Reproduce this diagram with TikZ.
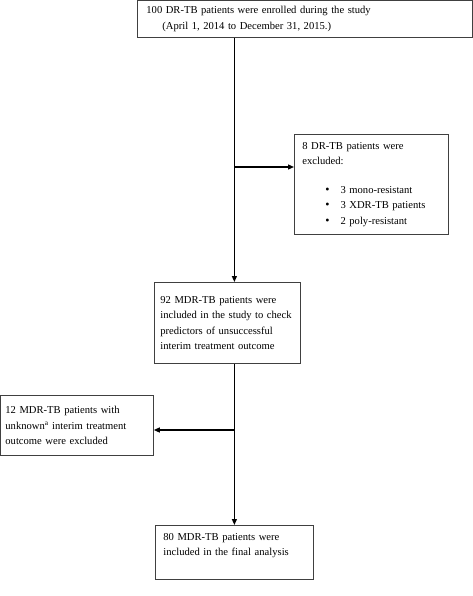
\documentclass[tikz,border=0pt]{standalone}
\usepackage{fontspec}
\setmainfont{Liberation Serif}
\usetikzlibrary{arrows.meta}

\tikzset{
  box/.style={draw=black!75, line width=0.8pt, anchor=north west, align=left, inner ysep=8pt},
  arr/.style={-{Triangle[length=6pt,width=5pt]}, line width=1.2pt},
}

\begin{document}
\begin{tikzpicture}[x=1pt, y=-1pt, font=\fontsize{10.6}{15.5}\selectfont]
    \useasboundingbox (0,0) rectangle (473,596);
    % boxes
    \node[box, text width=317pt, inner xsep=9pt, minimum height=37pt, inner ysep=3pt] (enrol) at (137,0)
        {100 DR-TB patients were enrolled during the study\\\hspace*{16pt}(April 1, 2014 to December 31, 2015.)};
    \node[box, text width=138pt, inner xsep=8pt, minimum height=92pt] (excl1) at (294,134)
        {8 DR-TB patients were\\excluded:\\[13pt]
         \hspace*{23pt}{\large\textbullet}\hspace{11pt}3 mono-resistant\\
         \hspace*{23pt}{\large\textbullet}\hspace{11pt}3 XDR-TB patients\\
         \hspace*{23pt}{\large\textbullet}\hspace{11pt}2 poly-resistant};
    \node[box, text width=134pt, inner xsep=6pt, minimum height=81pt] (incl) at (154,282)
        {92 MDR-TB patients were\\included in the study to check\\predictors of unsuccessful\\interim treatment outcome};
    \node[box, text width=143pt, inner xsep=5pt, minimum height=60pt] (excl2) at (0,395)
        {12 MDR-TB patients with\\unknown\textsuperscript{a} interim treatment\\outcome were excluded};
    \node[box, text width=142pt, inner xsep=8pt, text depth=31pt] (final) at (155,525)
        {80 MDR-TB patients were\\included in the final analysis};
    % arrows
    \coordinate (split1) at (234,167);
    \coordinate (split2) at (234,430);
    \draw[arr] (enrol.south -| final.north) -- (incl.north -| final.north);
    \draw[arr] (split1) -- (split1 -| excl1.west);
    \draw[arr] (incl.south -| final.north) -- (final.north);
    \draw[arr] (split2) -- (split2 -| excl2.east);
\end{tikzpicture}
\end{document}
